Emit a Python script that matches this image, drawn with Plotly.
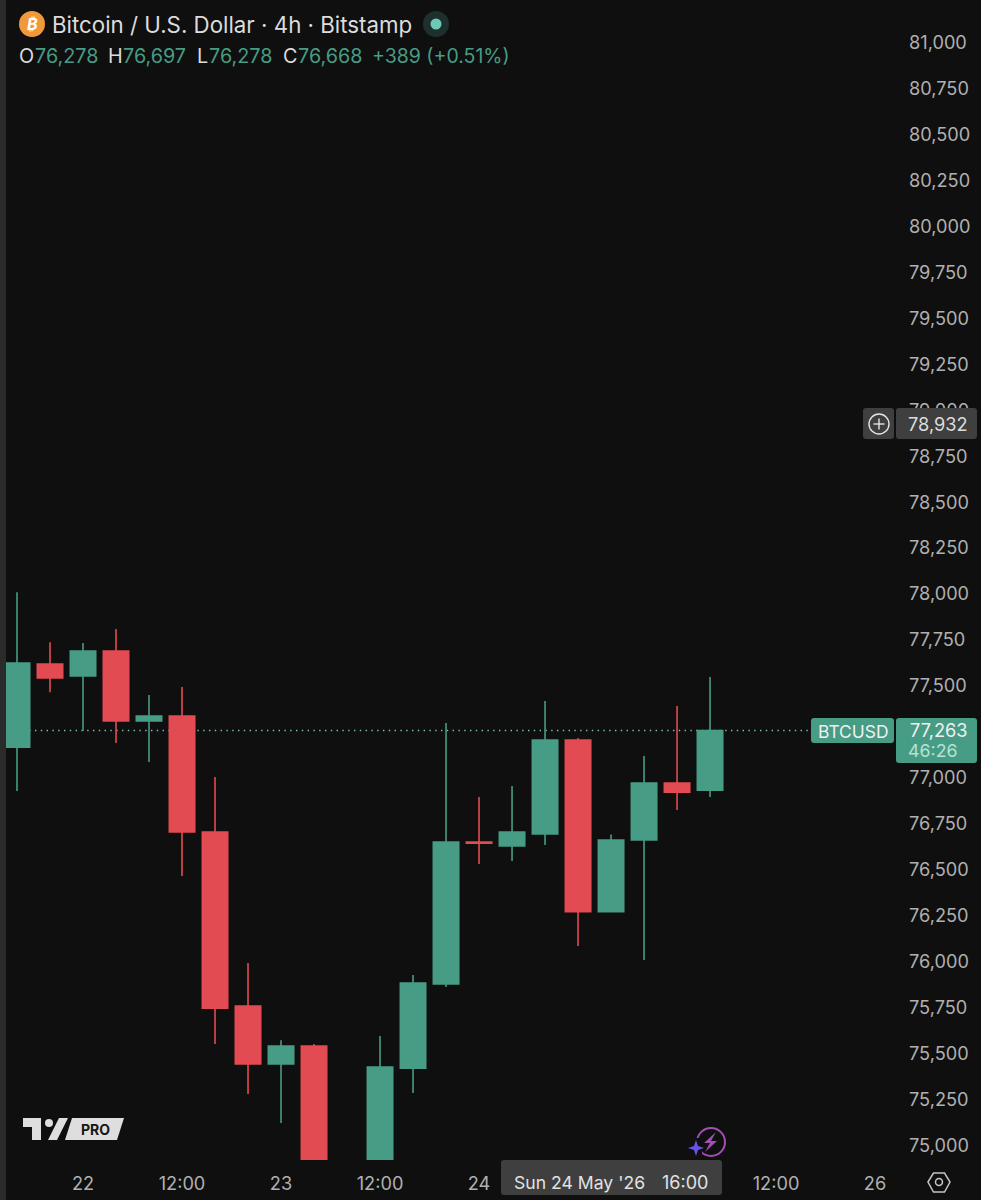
import plotly.graph_objects as go

# ---- data ----
bar_times = ["2026-05-21 16:00", "2026-05-21 20:00", "2026-05-22 00:00", "2026-05-22 04:00",
             "2026-05-22 08:00", "2026-05-22 12:00", "2026-05-22 16:00", "2026-05-22 20:00",
             "2026-05-23 00:00", "2026-05-23 04:00", "2026-05-23 08:00", "2026-05-23 12:00",
             "2026-05-23 16:00", "2026-05-23 20:00", "2026-05-24 00:00", "2026-05-24 04:00",
             "2026-05-24 08:00", "2026-05-24 12:00", "2026-05-24 16:00", "2026-05-24 20:00",
             "2026-05-25 00:00", "2026-05-25 04:00"]
opens = [77173, 77625, 77560, 77696, 77315, 77342, 76711, 75764, 75449, 75547, 74850,
         74750, 75427, 75884, 76656, 76635, 76700, 77211, 76278, 76668, 76977, 76939]
highs = [78016, 77744, 77739, 77815, 77456, 77500, 77010, 75998, 75579, 75558, 74900,
         75601, 75933, 77304, 76901, 76961, 77424, 77222, 76697, 77124, 77396, 77554]
lows = [76934, 77472, 77260, 77195, 77092, 76472, 75558, 75286, 75128, 74800, 74650,
        74700, 75291, 75868, 76537, 76553, 76640, 76091, 76278, 76015, 76831, 76901]
closes = [77630, 77549, 77696, 77315, 77342, 76711, 75753, 75449, 75547, 74850, 74750,
          75432, 75889, 76656, 76650, 76711, 77211, 76278, 76668, 76977, 76928, 77263]
x_tick_dates = ["2026-05-22 00:00", "2026-05-22 12:00", "2026-05-23 00:00", "2026-05-23 12:00",
                "2026-05-24 00:00", "2026-05-25 12:00", "2026-05-26 00:00"]
x_tick_labels = ["22", "12:00", "23", "12:00", "24", "12:00", "26"]
y_ticks = [75000, 75250, 75500, 75750, 76000, 76250, 76500, 76750, 77000, 77500, 77750, 78000,
           78250, 78500, 78750, 79000, 79250, 79500, 79750, 80000, 80250, 80500, 80750, 81000]
last_price = 77263
title_text = "Bitcoin / U.S. Dollar · 4h · Bitstamp"
ohlc_row = [("O", "76,278"), ("H", "76,697"), ("L", "76,278"), ("C", "76,668")]

W, H = 981, 1200
BG = "#0f0f0f"
GREEN = "#479c85"
RED = "#e34b52"
FONT = "Inter"
TICK = "#b0b0b0"
PILL = "#3f3f3f"
AXIS_SIZE = 18.2


def px(x):
    return x / W


def py(y):
    return 1 - y / H


def path(points, close=True):
    s = "M" + " L".join(f"{px(a):.5f},{py(b):.5f}" for a, b in points)
    return s + (" Z" if close else "")


shapes, annos = [], []


def poly(points, fill=None, line=None, lw=0, close=True):
    shapes.append(dict(type="path", xref="paper", yref="paper", path=path(points, close),
                       fillcolor=fill or "rgba(0,0,0,0)",
                       line=dict(color=line or "rgba(0,0,0,0)", width=lw)))


def rrect(x0, y0, x1, y1, fill, r=3):
    # rounded rectangle built from quadratic corners
    a = f"M{px(x0 + r):.5f},{py(y0):.5f} L{px(x1 - r):.5f},{py(y0):.5f} "
    a += f"Q{px(x1):.5f},{py(y0):.5f} {px(x1):.5f},{py(y0 + r):.5f} "
    a += f"L{px(x1):.5f},{py(y1 - r):.5f} Q{px(x1):.5f},{py(y1):.5f} {px(x1 - r):.5f},{py(y1):.5f} "
    a += f"L{px(x0 + r):.5f},{py(y1):.5f} Q{px(x0):.5f},{py(y1):.5f} {px(x0):.5f},{py(y1 - r):.5f} "
    a += f"L{px(x0):.5f},{py(y0 + r):.5f} Q{px(x0):.5f},{py(y0):.5f} {px(x0 + r):.5f},{py(y0):.5f} Z"
    shapes.append(dict(type="path", xref="paper", yref="paper", path=a, fillcolor=fill,
                       line=dict(width=0)))


def circle(cx, cy, r, fill=None, line=None, lw=0):
    shapes.append(dict(type="circle", xref="paper", yref="paper",
                       x0=px(cx - r), x1=px(cx + r), y0=py(cy + r), y1=py(cy - r),
                       fillcolor=fill or "rgba(0,0,0,0)",
                       line=dict(color=line or "rgba(0,0,0,0)", width=lw)))


def text(x, y, s, size=17, color=TICK, anchor="left", weight=400):
    annos.append(dict(xref="paper", yref="paper", x=px(x), y=py(y), text=s, showarrow=False,
                      xanchor=anchor, yanchor="middle", borderpad=0, borderwidth=0,
                      font=dict(family=FONT, size=size, color=color, weight=weight)))


# left strip
poly([(0, 0), (6, 0), (6, 1200), (0, 1200)], fill="#2b2b2b")

# last price dotted line
shapes.append(dict(type="line", xref="paper", yref="y", x0=px(6), x1=px(811),
                   y0=last_price, y1=last_price, layer="below",
                   line=dict(color="#7cc4b0", width=1.4, dash="1.4px,4.4px")))

# header
circle(32, 24, 13, fill="#f0983a")
text(32, 24, "<i>₿</i>", 16, "#ffffff", "center", 700)
text(52, 24, title_text, 22.3, "#dcdcdc")
circle(436, 24, 13, fill="#1d302d")
circle(436, 24, 5.5, fill="#6ec9b4")
for (lab, val), lx, vx in zip(ohlc_row, [18.5, 108, 197, 283], [35, 123, 209, 298]):
    text(lx, 56, lab, 19.8, "#dcdcdc")
    text(vx, 56, val, 19.8, GREEN)
text(372, 56, "+389 (+0.51%)", 19.5, GREEN)

# crosshair price pill
rrect(863, 408, 894, 439, PILL)
rrect(896, 408, 977, 439, PILL)
circle(879, 424, 10, line="#e4e4e4", lw=1.4)
poly([(873.5, 424), (884.5, 424)], line="#e4e4e4", lw=1.4, close=False)
poly([(879, 418.5), (879, 429.5)], line="#e4e4e4", lw=1.4, close=False)
text(968, 424, "78,932", AXIS_SIZE, "#dcdcdc", "right")

# last price pills
rrect(811, 718, 894, 743, GREEN)
rrect(896, 718, 977, 763, GREEN)
text(852.5, 731, "BTCUSD", 17.4, "#f0f0f0", "center")
text(968, 730, "77,263", AXIS_SIZE, "#f0f0f0", "right")
text(908, 750, "46:26", 17.8, "#b4e2d4", "left")

# crosshair date pill
rrect(501, 1160, 722, 1195, PILL)
text(514, 1182, "Sun 24 May '26", 17.6, "#e2e2e2")
text(708, 1182, "16:00", 18, "#e2e2e2", "right")

# TradingView PRO logo
LOGO = "#dedede"
poly([(23, 1118), (41, 1118), (41, 1140), (32, 1140), (32, 1127), (23, 1127)], fill=LOGO)
circle(49, 1123, 4, fill=LOGO)
poly([(59, 1118), (68, 1118), (57, 1140), (48, 1140)], fill=LOGO)
poly([(72, 1118), (124, 1118), (117, 1140), (65, 1140)], fill=LOGO)
text(95, 1129, "PRO", 14, "#161616", "center", 700)

# purple bolt icon
circle(711, 1142, 14, line="#a24fb5", lw=2)
poly([(688, 1138), (700, 1138), (703, 1160), (688, 1160)], fill=BG)
poly([(716, 1132), (704, 1143), (710, 1143), (705, 1152), (717, 1141), (711, 1141)], fill="#a24fb5")
poly([(696, 1140), (698, 1146), (704, 1148), (698, 1150), (696, 1156), (694, 1150), (688, 1148), (694, 1146)],
     fill="#6a52e8")

# settings hexagon
poly([(928, 1182), (933.5, 1173), (944.5, 1173), (950, 1182), (944.5, 1192), (933.5, 1192)],
     line="#c4c4c4", lw=1.5)
circle(939, 1182, 3.5, line="#c4c4c4", lw=1.5)

fig = go.Figure(go.Candlestick(
    x=bar_times, open=opens, high=highs, low=lows, close=closes,
    whiskerwidth=0,
    increasing=dict(line=dict(color=GREEN, width=1.6), fillcolor=GREEN),
    decreasing=dict(line=dict(color=RED, width=1.6), fillcolor=RED),
    showlegend=False, hoverinfo="skip",
))

fig.update_layout(
    width=W, height=H, margin=dict(l=0, r=0, t=0, b=0),
    paper_bgcolor=BG, plot_bgcolor=BG,
    boxgap=0.23, boxgroupgap=0, shapes=shapes, annotations=annos, showlegend=False,
    font=dict(family=FONT, size=AXIS_SIZE, color=TICK),
    xaxis=dict(domain=[6 / W, 895 / W], type="date", rangeslider=dict(visible=False),
               range=["2026-05-21 14:40", "2026-05-26 02:25"],
               tickmode="array", tickvals=x_tick_dates, ticktext=x_tick_labels,
               tickangle=0, showgrid=False, zeroline=False, showline=False, ticks="",
               ticklabelstandoff=11, tickfont=dict(family=FONT, size=AXIS_SIZE, color=TICK)),
    yaxis=dict(domain=[40 / H, 1], side="right", range=[74927, 81237],
               tickmode="array", tickvals=y_ticks, tickformat=",d",
               showgrid=False, zeroline=False, showline=False, ticks="",
               ticklabelstandoff=13, ticklabelshift=-1,
               tickfont=dict(family=FONT, size=AXIS_SIZE, color=TICK)),
)

fig.write_html("out.html", config=dict(displayModeBar=False),
               post_script="document.body.style.margin='0';")
